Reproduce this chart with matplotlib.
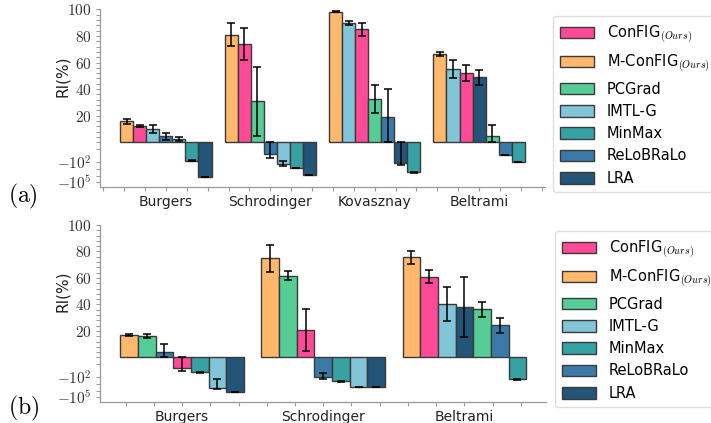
import numpy as np
import matplotlib
matplotlib.use("Agg")
import matplotlib.pyplot as plt
from matplotlib.patches import Patch
from matplotlib.ticker import FixedLocator, FixedFormatter

plt.rcParams["font.family"] = ["DejaVu Sans"]
plt.rcParams["mathtext.fontset"] = "cm"

# ---- methods and colours ----
methods = ["ConFIG", "M-ConFIG", "PCGrad", "IMTL-G", "MinMax", "ReLoBRaLo", "LRA"]
legend_labels = [r"ConFIG$_{(Ours)}$", r"M-ConFIG$_{(Ours)}$", "PCGrad", "IMTL-G",
                 "MinMax", "ReLoBRaLo", "LRA"]
colors = ["#FF4A98", "#FFB86C", "#56CD96", "#82C4D8", "#36A2A4", "#3B7AA8", "#235578"]

# ---- (a) ----
tasks_a = ["Burgers", "Schrodinger", "Kovasznay", "Beltrami"]
ri_a = {
    "ConFIG":    [12.3, 73.9, 85.0, 51.9],
    "M-ConFIG":  [15.8, 80.9, 98.2, 66.2],
    "PCGrad":    [2.5, 30.8, 32.8, 4.7],
    "IMTL-G":    [10.2, -182, 89.9, 54.9],
    "MinMax":    [-57, -661, -3300, -83],
    "ReLoBRaLo": [4.5, -5.6, 18.8, -7.8],
    "LRA":       [-15100, -7600, -144, 48.9],
}
err_lo_a = {
    "ConFIG":    [1.0, 11.9, 4.9, 6.1],
    "M-ConFIG":  [2.0, 8.5, 0.5, 1.5],
    "PCGrad":    [1.2, 26.0, 10.5, 4.7],
    "IMTL-G":    [3.0, 149, 1.4, 6.8],
    "MinMax":    [3, 30, 200, 4],
    "ReLoBRaLo": [2.5, 19.4, 18.8, 0.5],
    "LRA":       [500, 0, 144, 5.8],
}
err_hi_a = {
    "ConFIG":    [1.0, 11.9, 4.9, 6.1],
    "M-ConFIG":  [2.0, 8.5, 0.5, 1.5],
    "PCGrad":    [1.2, 26.0, 10.5, 8.1],
    "IMTL-G":    [3.0, 110, 1.4, 6.8],
    "MinMax":    [3, 30, 200, 4],
    "ReLoBRaLo": [2.5, 5.6, 21.0, 0.5],
    "LRA":       [500, 0, 144, 5.8],
}

# ---- (b) ----
tasks_b = ["Burgers", "Schrodinger", "Beltrami"]
ri_b = {
    "ConFIG":    [-4.5, 20.6, 60.9],
    "M-ConFIG":  [17.1, 74.8, 75.6],
    "PCGrad":    [16.1, 61.7, 36.3],
    "IMTL-G":    [-3470, -2750, 40.1],
    "MinMax":    [-18.1, -417, -209],
    "ReLoBRaLo": [3.8, -105, 24.2],
    "LRA":       [-15850, -2800, 38.3],
}
err_lo_b = {
    "ConFIG":    [7.1, 16.1, 4.8],
    "M-ConFIG":  [0.6, 10.1, 4.9],
    "PCGrad":    [1.6, 3.5, 5.9],
    "IMTL-G":    [3450, 0, 12.9],
    "MinMax":    [1.5, 20, 10],
    "ReLoBRaLo": [3.8, 69, 5.5],
    "LRA":       [0, 0, 22.5],
}
err_hi_b = {
    "ConFIG":    [4.5, 16.1, 4.8],
    "M-ConFIG":  [0.6, 10.1, 4.9],
    "PCGrad":    [1.6, 3.5, 5.9],
    "IMTL-G":    [3280, 0, 12.9],
    "MinMax":    [1.5, 20, 10],
    "ReLoBRaLo": [6.5, 81, 5.5],
    "LRA":       [0, 0, 22.5],
}

ytick_vals = [-1e5, -1e2, 20, 40, 60, 80, 100]
ytick_labels = [r"$-10^5$", r"$-10^2$", r"$20$", r"$40$", r"$60$", r"$80$", r"$100$"]


# linear above zero, log-compressed below zero
def fwd(y):
    y = np.asarray(y, dtype=float)
    return np.where(y >= 0, y, -5.0 * np.log10(1.0 + 10.0 * np.abs(y)))


def inv(f):
    f = np.asarray(f, dtype=float)
    return np.where(f >= 0, f, -(10.0 ** (np.clip(-f, 0, 300) / 5.0) - 1.0) / 10.0)


BAR_W = 0.125
EDGE = "#3a3a3a"
SPINE = "#9a9a9a"


def draw_panel(ax, tasks, ri, elo, ehi):
    ax.set_yscale("function", functions=(fwd, inv))
    for g, task in enumerate(tasks):
        vals = [ri[m][g] for m in methods]
        order = np.argsort(vals)[::-1]
        for k, mi in enumerate(order):
            m = methods[mi]
            x = g + (k - 3) * BAR_W
            ax.bar(x, ri[m][g], width=BAR_W, color=colors[mi], edgecolor=EDGE,
                   linewidth=1.0, zorder=2)
            ax.errorbar(x, ri[m][g], yerr=[[elo[m][g]], [ehi[m][g]]], fmt="none",
                        ecolor="black", elinewidth=1.1, capsize=2.6, capthick=1.1,
                        zorder=3)
    ax.set_ylim(inv(-33.4), 100)
    ax.yaxis.set_major_locator(FixedLocator(ytick_vals))
    ax.yaxis.set_major_formatter(FixedFormatter(ytick_labels))
    minor = [v for v in np.arange(0, 101, 4) if v % 20 != 0] + [0, -1, -1e3, -1e4]
    ax.yaxis.set_minor_locator(FixedLocator(minor))
    ax.set_xticks(range(len(tasks)))
    ax.set_xticklabels(tasks, fontsize=10)
    ax.set_xticks(np.arange(-0.6, len(tasks) - 0.4 + 0.01, 0.2), minor=True)
    for s in ["top", "right"]:
        ax.spines[s].set_visible(False)
    for s in ["left", "bottom"]:
        ax.spines[s].set_color(SPINE)
        ax.spines[s].set_linewidth(0.9)
    ax.tick_params(axis="both", which="both", color=SPINE, length=3, width=0.8)
    ax.tick_params(axis="y", which="major", labelsize=11, pad=3, labelcolor="#333333")
    ax.tick_params(axis="x", which="major", pad=3, labelcolor="#222222")
    ax.set_ylabel("RI(%)", fontsize=11, color="#222222")
    ax.yaxis.set_label_coords(-0.067, 0.625)


fig = plt.figure(figsize=(7.11, 4.23), dpi=100)
ax_a = fig.add_axes([0.1406, 0.5586, 0.6259, 0.4194])
ax_b = fig.add_axes([0.1406, 0.0504, 0.6280, 0.4177])

draw_panel(ax_a, tasks_a, ri_a, err_lo_a, err_hi_a)
draw_panel(ax_b, tasks_b, ri_b, err_lo_b, err_hi_b)
ax_a.set_xlim(-0.4375 - 0.19375, 3.4375 + 0.19375)
ax_b.set_xlim(-0.4375 - 0.14375, 2.4375 + 0.14375)

handles = [Patch(facecolor=c, edgecolor=EDGE, linewidth=1.0) for c in colors]
for anchor in [(553 / 711, 1 - 16.5 / 423), (555 / 711, 1 - 231.5 / 423)]:
    fig.legend(handles, legend_labels, loc="upper left", bbox_to_anchor=anchor,
               borderaxespad=0.0, fontsize=10.5, handlelength=2.35, handleheight=0.85,
               labelspacing=0.5, handletextpad=0.9, borderpad=0.45, frameon=True,
               fancybox=True, edgecolor="#dddddd", framealpha=1.0)

fig.text(8 / 711, 1 - 196 / 423, r"$\mathrm{(a)}$", fontsize=17, va="center", ha="left")
fig.text(8 / 711, 1 - 408 / 423, r"$\mathrm{(b)}$", fontsize=17, va="center", ha="left")

fig.savefig("out.png", dpi=100)
